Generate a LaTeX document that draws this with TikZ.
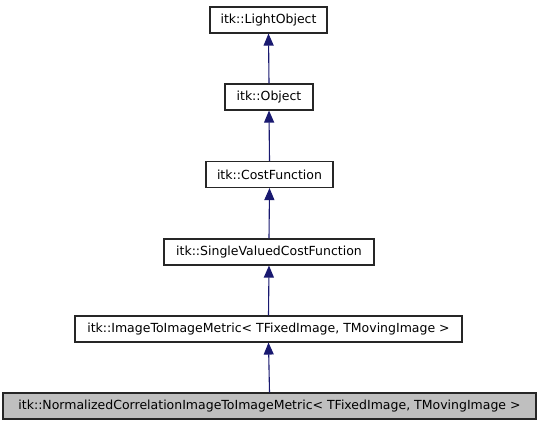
\documentclass[tikz,border=0pt]{standalone}
\usepackage{fontspec}
\setmainfont{DejaVu Sans}
\usetikzlibrary{arrows.meta}
\definecolor{edgeblue}{HTML}{191970}
\definecolor{boxgray}{HTML}{BFBFBF}
\begin{document}
\begin{tikzpicture}[x=1bp,y=-1bp,
  cls/.style={draw=black!85, line width=1.1bp, fill=white, minimum height=26bp, inner sep=0pt, font=\fontsize{12.5bp}{14bp}\selectfont},
  cur/.style={cls, fill=boxgray},
  inh/.style={draw=edgeblue, line width=1.1bp, -{Triangle[length=12bp,width=10bp]}}]
\useasboundingbox (0,0) rectangle (539,427);
\node[cls, minimum width=117bp] (lo) at (268.5,20) {itk::LightObject};
\node[cls, minimum width=88bp] (ob) at (269,97) {itk::Object};
\node[cls, minimum width=127bp] (cf) at (269.5,174.5) {itk::CostFunction};
\node[cls, minimum width=210bp] (sv) at (269,252) {itk::SingleValuedCostFunction};
\node[cls, minimum width=387bp] (im) at (268.5,329) {itk::ImageToImageMetric< TFixedImage, TMovingImage >};
\node[cur, minimum width=533bp] (nc) at (269.5,406) {itk::NormalizedCorrelationImageToImageMetric< TFixedImage, TMovingImage >};
\draw[inh] (ob.north) -- (lo.south);
\draw[inh] (cf.north) -- (ob.south);
\draw[inh] (sv.north) -- (cf.south);
\draw[inh] (im.north) -- (sv.south);
\draw[inh] (nc.north) -- (im.south);
\end{tikzpicture}
\end{document}
